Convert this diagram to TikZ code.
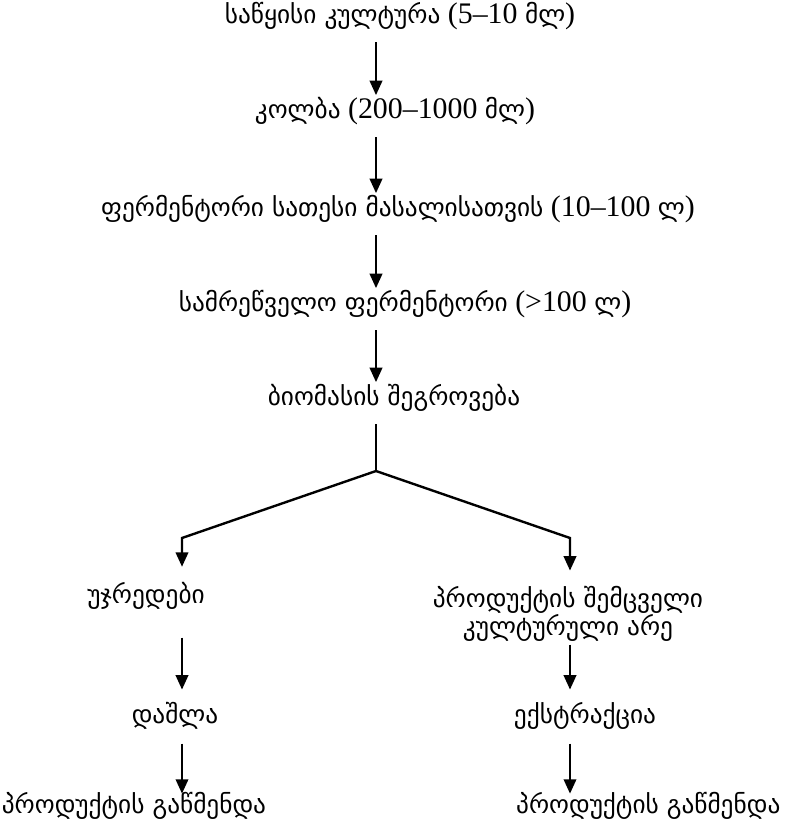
\documentclass[tikz,border=0pt]{standalone}
\usepackage{fontspec}
\setmainfont{Liberation Serif}[Scale=1.18]
\newfontfamily\ka{DejaVu Sans}
\usepackage{tikz}
\usetikzlibrary{arrows.meta}

\begin{document}
\begin{tikzpicture}[x=0.025cm,y=-0.025cm,
	flow/.style={line width=1.7pt,-{Triangle[length=3.6mm,width=3.1mm]},shorten <=8pt,shorten >=3.5pt},
	every node/.style={font=\fontsize{18}{20}\selectfont,align=center,inner sep=0pt},
	lbl/.style={text height=13pt,text depth=5pt},
	twoline/.style={}]
\useasboundingbox (0,0) rectangle (788,824);
\foreach \n/\x/\s/\l in{
	n1/{(400,18)}/lbl/{{\ka საწყისი კულტურა} (5–10 {\ka მლ})},
	n2/{(395,113)}/lbl/{{\ka კოლბა} (200–1000 {\ka მლ})},
	n3/{(398,211)}/lbl/{{\ka ფერმენტორი სათესი მასალისათვის} (10–100 {\ka ლ})},
	n4/{(405,306)}/lbl/{{\ka სამრეწველო ფერმენტორი} (>100 {\ka ლ})},
	n5/{(394,400)}/lbl/{{\ka ბიომასის შეგროვება}},
	l1/{(146,598)}/lbl/{{\ka უჯრედები}},
	r1/{(568,614)}/twoline/{{\ka პროდუქტის შემცველი}\\{\ka კულტურული არე}},
	l2/{(175,718)}/lbl/{{\ka დაშლა}},
	r2/{(585,718)}/lbl/{{\ka ექსტრაქცია}},
	l3/{(134,808)}/lbl/{{\ka პროდუქტის გაწმენდა}},
	r3/{(652,808)}/lbl/{{\ka პროდუქტის გაწმენდა}}
}
{
	\node[\s] (\n) at \x {\l};
}
% columns of the arrows
\coordinate (c) at (376,0);
\coordinate (cl) at (182,0);
\coordinate (cr) at (570,0);
\coordinate (b) at (376,471);
\coordinate (bl) at (182,538);
\coordinate (br) at (570,538);
\draw[flow] (n1.south -| c) -- (n2.north -| c);
\draw[flow] (n2.south -| c) -- (n3.north -| c);
\draw[flow] (n3.south -| c) -- (n4.north -| c);
\draw[flow] (n4.south -| c) -- (n5.north -| c);
\draw[line width=1.7pt,shorten <=8pt] (n5.south -| c) -- (b);
\draw[flow,shorten <=0pt,shorten >=13pt] (b) -- (bl) -- (l1.north -| cl);
\draw[flow,shorten <=0pt,shorten >=11pt] (b) -- (br) -- (r1.north -| cr);
\draw[flow,shorten <=19pt,shorten >=11pt] (l1.south -| cl) -- (l2.north -| cl);
\draw[flow,shorten <=2pt,shorten >=11pt] (r1.south -| cr) -- (r2.north -| cr);
\draw[flow,shorten <=9pt,shorten >=1pt] (l2.south -| cl) -- (l3.north -| cl);
\draw[flow,shorten <=9pt,shorten >=1pt] (r2.south -| cr) -- (r3.north -| cr);
\end{tikzpicture}
\end{document}
